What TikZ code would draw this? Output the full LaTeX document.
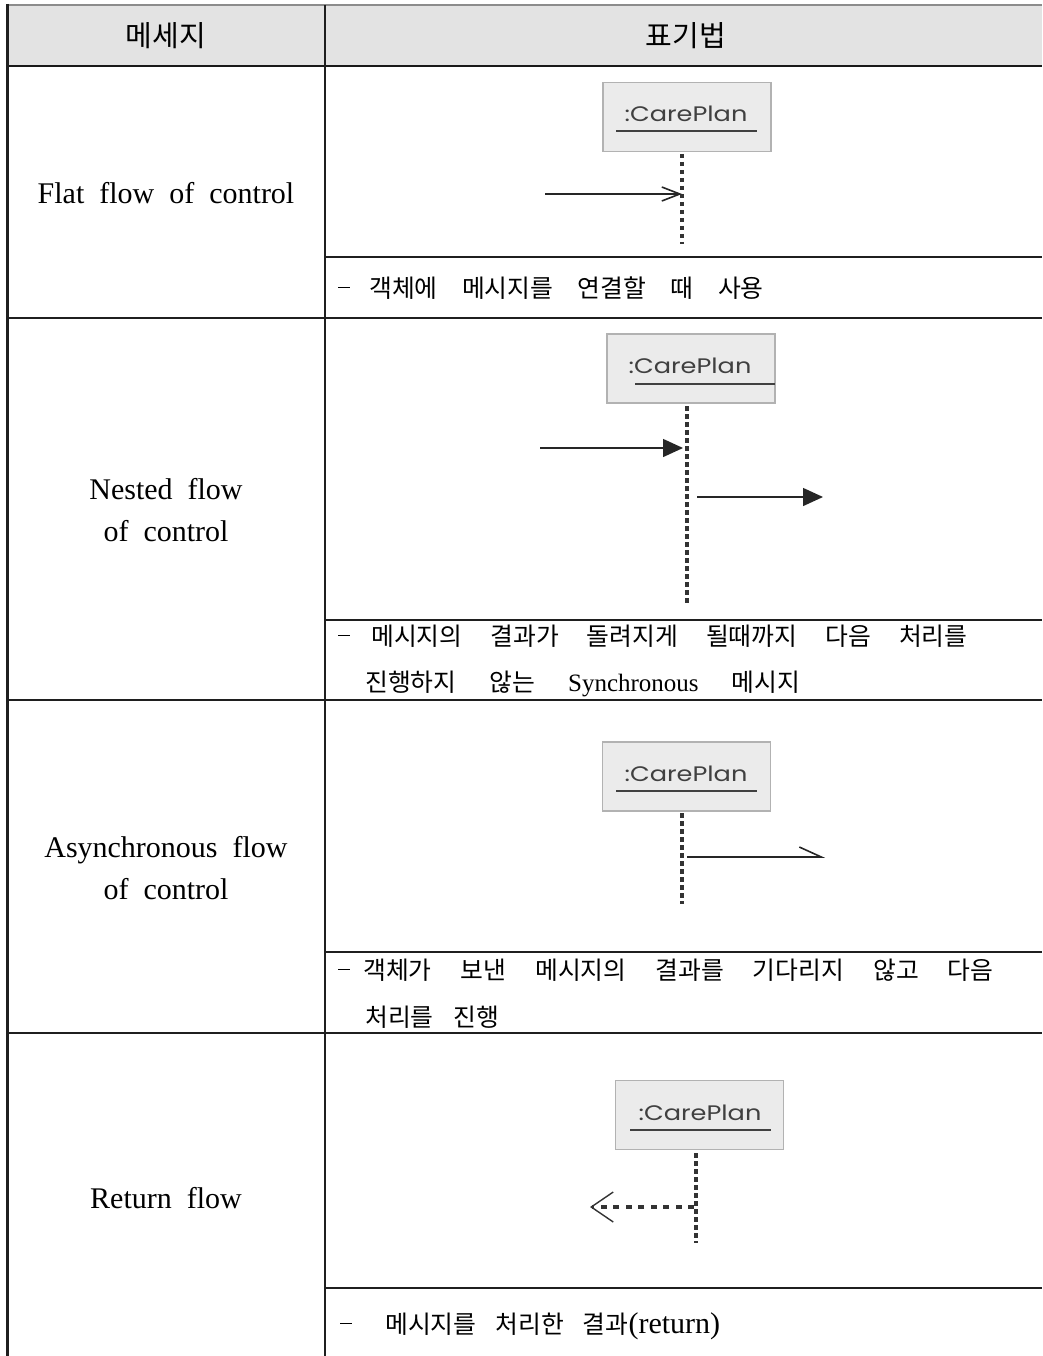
\documentclass[tikz,border=0pt]{standalone}
\usepackage{fontspec}
\setmainfont{Liberation Serif}
\newfontfamily\kr{Noto Sans CJK KR}
\newfontfamily\geo[FakeStretch=1.22]{Poppins}
\usetikzlibrary{arrows.meta}
\newcommand\widespace[1]{\spaceskip=#1\relax}
\newcommand\lat[2][25]{{\rmfamily\fontsize{#1}{28}\selectfont #2}}
% leading dash of a description line, followed by a gap
\newcommand\lead[1]{\rule[0.36em]{12pt}{1.1pt}\hspace{#1}}

\begin{document}
\begin{tikzpicture}[x=1pt,y=-1pt,
  rule/.style={line width=2pt, draw=black!88},
  headtext/.style={font=\kr\fontsize{29}{32}\selectfont, inner sep=0},
  lefttext/.style={font=\fontsize{30}{42}\selectfont\widespace{15pt}, align=center, inner sep=0},
  desc/.style={font=\kr\fontsize{24.8}{28}\selectfont\widespace{#1}, anchor=west, inner sep=0},
  desc/.default=27pt,
  objbox/.style={draw=black!30, fill=black!8, line width=1.8pt, minimum width=168pt, minimum height=69pt, inner sep=0},
  objlabel/.style={font=\geo\fontsize{21}{24}\selectfont, text=black!75, inner sep=0},
  underln/.style={line width=1.8pt, draw=black!75},
  lifeline/.style={draw=black!80, line width=3.8pt, dash pattern=on 4.5pt off 3.5pt},
  msg/.style={line width=1.4pt, draw=black!85},
  retmsg/.style={draw=black!80, line width=4pt, dash pattern=on 6pt off 6.5pt}
]
\useasboundingbox (0,0) rectangle (1042,1356);

% header band
\fill[black!11] (7,5) rectangle (1042,66);
\draw[line width=2pt, draw=black!45] (7,5) -- (1042,5);
\draw[line width=2.5pt, draw=black!90] (7,66) -- (1042,66);
\draw[line width=3pt, draw=black!88] (7,4) -- (7,1356);
\draw[rule] (325,5) -- (325,1356);
% row separators
\foreach \yy in {318,700,1033} \draw[rule] (7,\yy) -- (1042,\yy);
% separators above the descriptions
\foreach \yy in {257,620,952,1288} \draw[rule] (325,\yy) -- (1042,\yy);

% header texts
\node[headtext] (h1) at (166,36) {메세지};
\node[headtext] (h2) at (686,36) {표기법};

% left column
\node[lefttext] (n1) at (166,193) {Flat flow of control};
\node[lefttext] (n2) at (166,510) {Nested flow\\of control};
\node[lefttext] (n3) at (166,868) {Asynchronous flow\\of control};
\node[lefttext] (n4) at (166,1198) {Return flow};

% descriptions
\node[desc=24.5pt] (d1) at (338,288) {\lead{19pt}객체에 메시지를 연결할 때 사용};
\node[desc=28pt] (d2a) at (338,636) {\lead{21pt}메시지의 결과가 돌려지게 될때까지 다음 처리를};
\node[desc=33pt] (d2b) at (365,684) {진행하지 않는 \lat{Synchronous} 메시지};
\node[desc=29pt] (d3a) at (338,970) {\lead{13pt}객체가 보낸 메시지의 결과를 기다리지 않고 다음};
\node[desc=20pt] (d3b) at (365,1017) {처리를 진행};
\node[desc=19pt] (d4) at (340,1326) {\lead{33pt}메시지를 처리한 결과\lat[30]{(return)}};

% flat flow of control
\node[objbox] (b1) at (687,117) {};
\node[objlabel] (l1) at (686,114) {:CarePlan};
\draw[underln] (616,131) -- (757,131);
\coordinate (t1) at (682,154);
\coordinate (e1) at (682,244);
\coordinate (m1) at (682,194);
\coordinate (s1) at (545,194);
\draw[lifeline] (t1) -- (e1);
\draw[msg, -{Straight Barb[length=18pt, width=14pt, line width=1.6pt]}] (s1) -- (m1);

% nested flow of control
\node[objbox] (b2) at (691,368.5) {};
\node[objlabel] (l2) at (690,366) {:CarePlan};
\draw[underln] (635,384) -- (775,384);
\coordinate (t2) at (687,406);
\coordinate (e2) at (687,606);
\coordinate (m2) at (683,448);
\coordinate (s2) at (540,448);
\coordinate (s2b) at (697,497);
\coordinate (m2b) at (823,497);
\draw[lifeline] (t2) -- (e2);
\draw[msg, -{Triangle[length=20pt, width=18pt]}] (s2) -- (m2);
\draw[msg, -{Triangle[length=20pt, width=18pt]}] (s2b) -- (m2b);

% asynchronous flow of control
\node[objbox] (b3) at (686.5,776.5) {};
\node[objlabel] (l3) at (686,774) {:CarePlan};
\draw[underln] (616,791) -- (757,791);
\coordinate (t3) at (682,813);
\coordinate (e3) at (682,904);
\coordinate (s3) at (687,857);
\coordinate (m3) at (825,857);
\draw[lifeline] (t3) -- (e3);
\draw[msg, -{Straight Barb[left, length=22pt, width=20pt, line width=1.6pt]}] (s3) -- (m3);

% return flow
\node[objbox] (b4) at (699.5,1115) {};
\node[objlabel] (l4) at (700,1113) {:CarePlan};
\draw[underln] (630,1130) -- (771,1130);
\coordinate (t4) at (696,1153);
\coordinate (e4) at (696,1243);
\coordinate (s4) at (694,1207);
\coordinate (m4) at (590,1207);
\draw[lifeline] (t4) -- (e4);
\draw[retmsg, -{Straight Barb[length=22pt, width=30pt, line width=1.4pt]}] (s4) -- (m4);
\end{tikzpicture}
\end{document}
